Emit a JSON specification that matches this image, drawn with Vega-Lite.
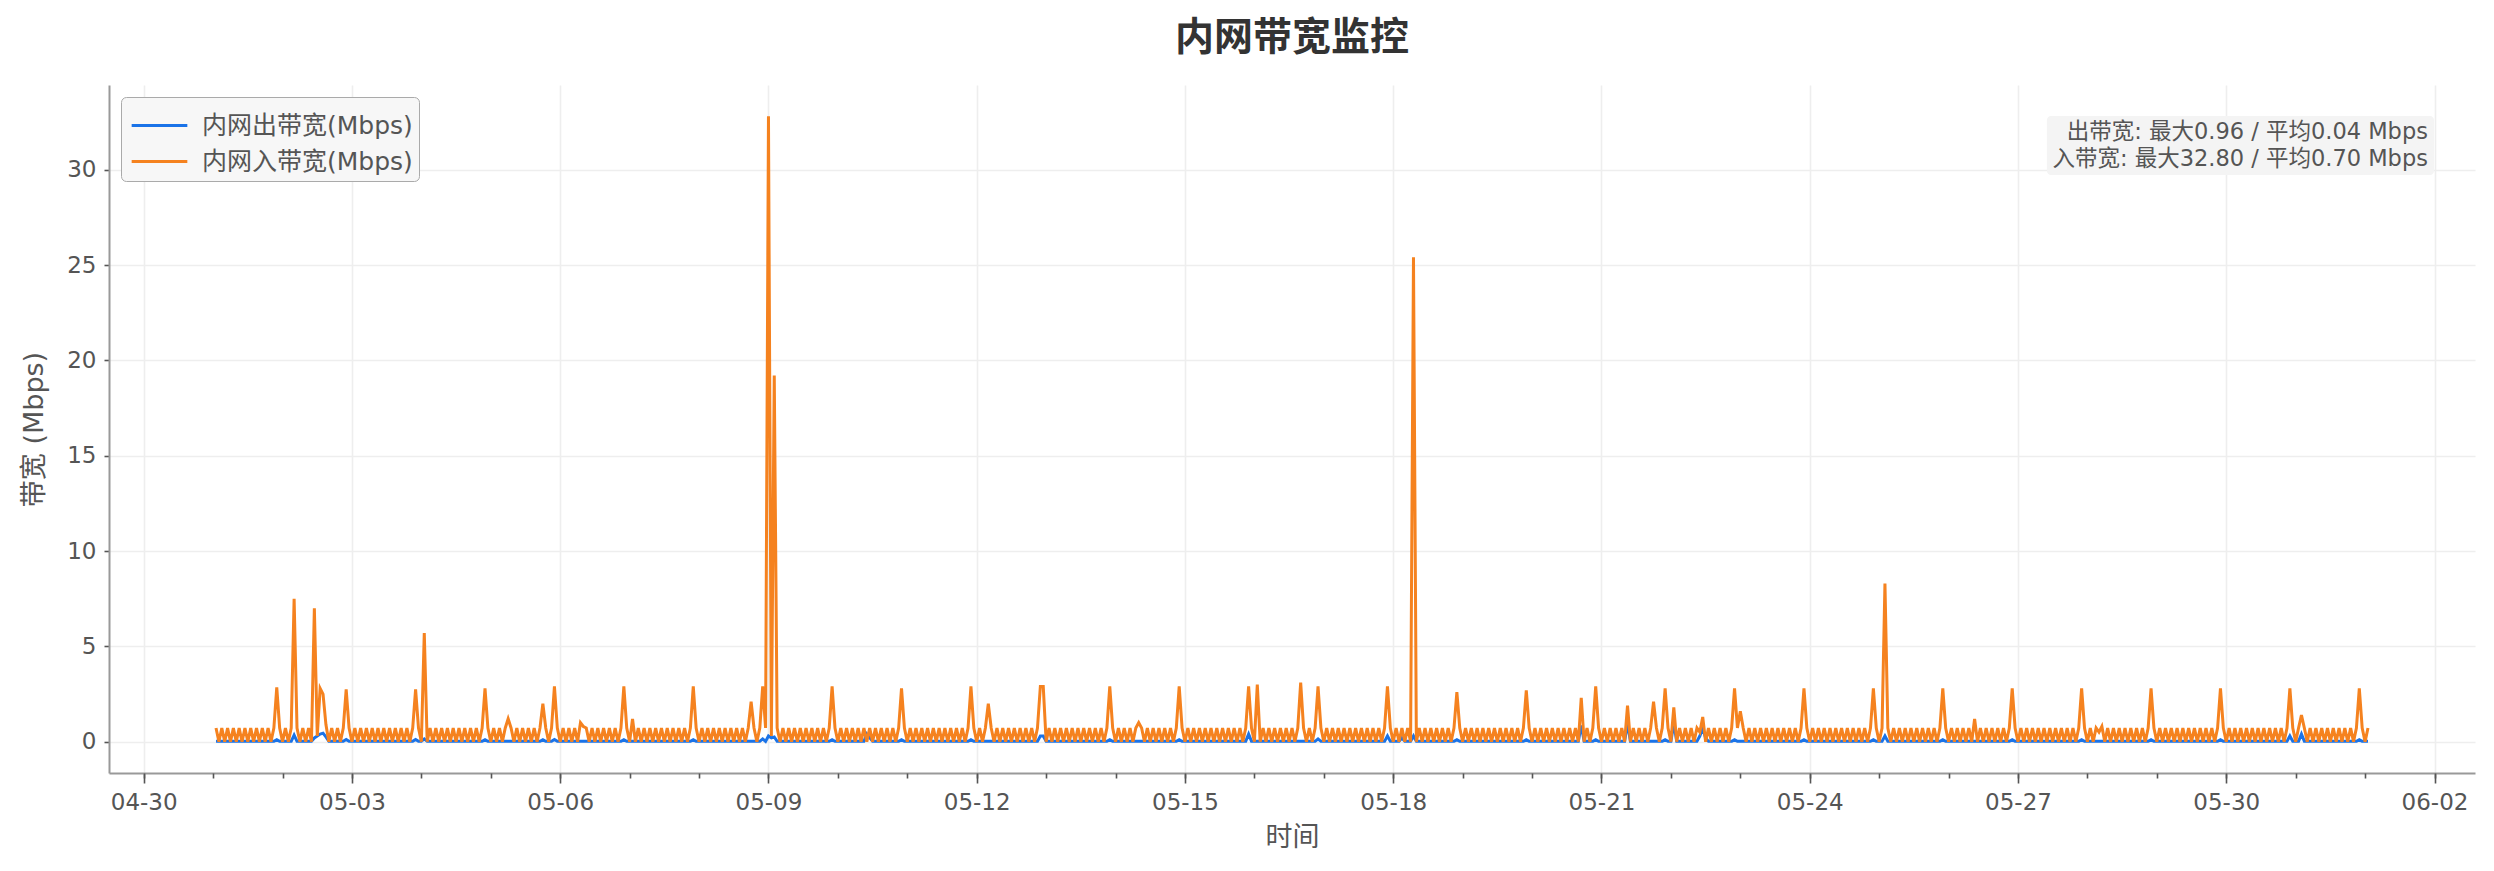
{
  "$schema": "https://vega.github.io/schema/vega-lite/v6.json",
  "width": 2366,
  "height": 688,
  "autosize": {"type": "none"},
  "padding": {"left": 109, "top": 85, "right": 19, "bottom": 98},
  "background": "white",
  "title": {"text": "内网带宽监控", "fontSize": 39, "fontWeight": "bold", "color": "#333333", "offset": 27, "anchor": "middle"},
  "data": {
    "format": {"parse": {"t": "date:'%m-%d %H'"}},
    "values": [
{"t":"05-01 01","o":0.02,"i":0.72},{"t":"05-01 02","o":0.02,"i":0},{"t":"05-01 03","o":0.02,"i":0.72},{"t":"05-01 04","o":0.02,"i":0},{"t":"05-01 05","o":0.02,"i":0.72},{"t":"05-01 06","o":0.02,"i":0},{"t":"05-01 07","o":0.02,"i":0.72},{"t":"05-01 08","o":0.02,"i":0},{"t":"05-01 09","o":0.02,"i":0.72},{"t":"05-01 10","o":0.02,"i":0},{"t":"05-01 11","o":0.02,"i":0.72},{"t":"05-01 12","o":0.02,"i":0},{"t":"05-01 13","o":0.02,"i":0.72},{"t":"05-01 14","o":0.02,"i":0},{"t":"05-01 15","o":0.02,"i":0.72},{"t":"05-01 16","o":0.02,"i":0},{"t":"05-01 17","o":0.02,"i":0.72},{"t":"05-01 18","o":0.02,"i":0},{"t":"05-01 19","o":0.02,"i":0.72},{"t":"05-01 20","o":0.02,"i":0},{"t":"05-01 21","o":0.02,"i":0.72},{"t":"05-01 22","o":0.1,"i":2.85},{"t":"05-01 23","o":0.02,"i":0.72},
{"t":"05-02 00","o":0.02,"i":0},{"t":"05-02 01","o":0.02,"i":0.72},{"t":"05-02 02","o":0.02,"i":0},{"t":"05-02 03","o":0.02,"i":0.72},{"t":"05-02 04","o":0.35,"i":7.5},{"t":"05-02 05","o":0.02,"i":0.72},{"t":"05-02 06","o":0.02,"i":0},{"t":"05-02 07","o":0.02,"i":0.72},{"t":"05-02 08","o":0.02,"i":0},{"t":"05-02 09","o":0.02,"i":0.72},{"t":"05-02 10","o":0.02,"i":0},{"t":"05-02 11","o":0.2,"i":7.0},{"t":"05-02 12","o":0.3,"i":0.3},{"t":"05-02 13","o":0.4,"i":2.8},{"t":"05-02 14","o":0.45,"i":2.5},{"t":"05-02 15","o":0.25,"i":0.9},{"t":"05-02 16","o":0.02,"i":0},{"t":"05-02 17","o":0.02,"i":0.72},{"t":"05-02 18","o":0.02,"i":0},{"t":"05-02 19","o":0.02,"i":0.72},{"t":"05-02 20","o":0.02,"i":0},{"t":"05-02 21","o":0.02,"i":0.72},{"t":"05-02 22","o":0.12,"i":2.75},{"t":"05-02 23","o":0.02,"i":0.72},
{"t":"05-03 00","o":0.02,"i":0},{"t":"05-03 01","o":0.02,"i":0.72},{"t":"05-03 02","o":0.02,"i":0},{"t":"05-03 03","o":0.02,"i":0.72},{"t":"05-03 04","o":0.02,"i":0},{"t":"05-03 05","o":0.02,"i":0.72},{"t":"05-03 06","o":0.02,"i":0},{"t":"05-03 07","o":0.02,"i":0.72},{"t":"05-03 08","o":0.02,"i":0},{"t":"05-03 09","o":0.02,"i":0.72},{"t":"05-03 10","o":0.02,"i":0},{"t":"05-03 11","o":0.02,"i":0.72},{"t":"05-03 12","o":0.02,"i":0},{"t":"05-03 13","o":0.02,"i":0.72},{"t":"05-03 14","o":0.02,"i":0},{"t":"05-03 15","o":0.02,"i":0.72},{"t":"05-03 16","o":0.02,"i":0},{"t":"05-03 17","o":0.02,"i":0.72},{"t":"05-03 18","o":0.02,"i":0},{"t":"05-03 19","o":0.02,"i":0.72},{"t":"05-03 20","o":0.02,"i":0},{"t":"05-03 21","o":0.02,"i":0.72},{"t":"05-03 22","o":0.12,"i":2.75},{"t":"05-03 23","o":0.02,"i":0.72},
{"t":"05-04 00","o":0.02,"i":0},{"t":"05-04 01","o":0.15,"i":5.7},{"t":"05-04 02","o":0.02,"i":0},{"t":"05-04 03","o":0.02,"i":0.72},{"t":"05-04 04","o":0.02,"i":0},{"t":"05-04 05","o":0.02,"i":0.72},{"t":"05-04 06","o":0.02,"i":0},{"t":"05-04 07","o":0.02,"i":0.72},{"t":"05-04 08","o":0.02,"i":0},{"t":"05-04 09","o":0.02,"i":0.72},{"t":"05-04 10","o":0.02,"i":0},{"t":"05-04 11","o":0.02,"i":0.72},{"t":"05-04 12","o":0.02,"i":0},{"t":"05-04 13","o":0.02,"i":0.72},{"t":"05-04 14","o":0.02,"i":0},{"t":"05-04 15","o":0.02,"i":0.72},{"t":"05-04 16","o":0.02,"i":0},{"t":"05-04 17","o":0.02,"i":0.72},{"t":"05-04 18","o":0.02,"i":0},{"t":"05-04 19","o":0.02,"i":0.72},{"t":"05-04 20","o":0.02,"i":0},{"t":"05-04 21","o":0.02,"i":0.72},{"t":"05-04 22","o":0.1,"i":2.8},{"t":"05-04 23","o":0.02,"i":0.72},
{"t":"05-05 00","o":0.02,"i":0},{"t":"05-05 01","o":0.02,"i":0.72},{"t":"05-05 02","o":0.02,"i":0},{"t":"05-05 03","o":0.02,"i":0.72},{"t":"05-05 04","o":0.02,"i":0},{"t":"05-05 05","o":0.02,"i":0.72},{"t":"05-05 06","o":0.02,"i":1.2},{"t":"05-05 07","o":0.02,"i":0.72},{"t":"05-05 08","o":0.02,"i":0},{"t":"05-05 09","o":0.02,"i":0.72},{"t":"05-05 10","o":0.02,"i":0},{"t":"05-05 11","o":0.02,"i":0.72},{"t":"05-05 12","o":0.02,"i":0},{"t":"05-05 13","o":0.02,"i":0.72},{"t":"05-05 14","o":0.02,"i":0},{"t":"05-05 15","o":0.02,"i":0.72},{"t":"05-05 16","o":0.02,"i":0},{"t":"05-05 17","o":0.02,"i":0.72},{"t":"05-05 18","o":0.1,"i":2.0},{"t":"05-05 19","o":0.02,"i":0.72},{"t":"05-05 20","o":0.02,"i":0},{"t":"05-05 21","o":0.02,"i":0.72},{"t":"05-05 22","o":0.12,"i":2.9},{"t":"05-05 23","o":0.02,"i":0.72},
{"t":"05-06 00","o":0.02,"i":0},{"t":"05-06 01","o":0.02,"i":0.72},{"t":"05-06 02","o":0.02,"i":0},{"t":"05-06 03","o":0.02,"i":0.72},{"t":"05-06 04","o":0.02,"i":0},{"t":"05-06 05","o":0.02,"i":0.72},{"t":"05-06 06","o":0.02,"i":0},{"t":"05-06 07","o":0.02,"i":1.0},{"t":"05-06 08","o":0.02,"i":0.8},{"t":"05-06 09","o":0.02,"i":0.72},{"t":"05-06 10","o":0.02,"i":0},{"t":"05-06 11","o":0.02,"i":0.72},{"t":"05-06 12","o":0.02,"i":0},{"t":"05-06 13","o":0.02,"i":0.72},{"t":"05-06 14","o":0.02,"i":0},{"t":"05-06 15","o":0.02,"i":0.72},{"t":"05-06 16","o":0.02,"i":0},{"t":"05-06 17","o":0.02,"i":0.72},{"t":"05-06 18","o":0.02,"i":0},{"t":"05-06 19","o":0.02,"i":0.72},{"t":"05-06 20","o":0.02,"i":0},{"t":"05-06 21","o":0.02,"i":0.72},{"t":"05-06 22","o":0.1,"i":2.9},{"t":"05-06 23","o":0.02,"i":0.72},
{"t":"05-07 00","o":0.02,"i":0},{"t":"05-07 01","o":0.02,"i":1.2},{"t":"05-07 02","o":0.02,"i":0},{"t":"05-07 03","o":0.02,"i":0.72},{"t":"05-07 04","o":0.02,"i":0},{"t":"05-07 05","o":0.02,"i":0.72},{"t":"05-07 06","o":0.02,"i":0},{"t":"05-07 07","o":0.02,"i":0.72},{"t":"05-07 08","o":0.02,"i":0},{"t":"05-07 09","o":0.02,"i":0.72},{"t":"05-07 10","o":0.02,"i":0},{"t":"05-07 11","o":0.02,"i":0.72},{"t":"05-07 12","o":0.02,"i":0},{"t":"05-07 13","o":0.02,"i":0.72},{"t":"05-07 14","o":0.02,"i":0},{"t":"05-07 15","o":0.02,"i":0.72},{"t":"05-07 16","o":0.02,"i":0},{"t":"05-07 17","o":0.02,"i":0.72},{"t":"05-07 18","o":0.02,"i":0},{"t":"05-07 19","o":0.02,"i":0.72},{"t":"05-07 20","o":0.02,"i":0},{"t":"05-07 21","o":0.02,"i":0.72},{"t":"05-07 22","o":0.1,"i":2.9},{"t":"05-07 23","o":0.02,"i":0.72},
{"t":"05-08 00","o":0.02,"i":0},{"t":"05-08 01","o":0.02,"i":0.72},{"t":"05-08 02","o":0.02,"i":0},{"t":"05-08 03","o":0.02,"i":0.72},{"t":"05-08 04","o":0.02,"i":0},{"t":"05-08 05","o":0.02,"i":0.72},{"t":"05-08 06","o":0.02,"i":0},{"t":"05-08 07","o":0.02,"i":0.72},{"t":"05-08 08","o":0.02,"i":0},{"t":"05-08 09","o":0.02,"i":0.72},{"t":"05-08 10","o":0.02,"i":0},{"t":"05-08 11","o":0.02,"i":0.72},{"t":"05-08 12","o":0.02,"i":0},{"t":"05-08 13","o":0.02,"i":0.72},{"t":"05-08 14","o":0.02,"i":0},{"t":"05-08 15","o":0.02,"i":0.72},{"t":"05-08 16","o":0.02,"i":0},{"t":"05-08 17","o":0.02,"i":0.72},{"t":"05-08 18","o":0.02,"i":2.1},{"t":"05-08 19","o":0.02,"i":0.72},{"t":"05-08 20","o":0.02,"i":0},{"t":"05-08 21","o":0.02,"i":0.72},{"t":"05-08 22","o":0.15,"i":2.9},{"t":"05-08 23","o":0.02,"i":0.72},
{"t":"05-09 00","o":0.3,"i":32.8},{"t":"05-09 01","o":0.2,"i":0.3},{"t":"05-09 02","o":0.25,"i":19.2},{"t":"05-09 03","o":0.02,"i":0.72},{"t":"05-09 04","o":0.02,"i":0},{"t":"05-09 05","o":0.02,"i":0.72},{"t":"05-09 06","o":0.02,"i":0},{"t":"05-09 07","o":0.02,"i":0.72},{"t":"05-09 08","o":0.02,"i":0},{"t":"05-09 09","o":0.02,"i":0.72},{"t":"05-09 10","o":0.02,"i":0},{"t":"05-09 11","o":0.02,"i":0.72},{"t":"05-09 12","o":0.02,"i":0},{"t":"05-09 13","o":0.02,"i":0.72},{"t":"05-09 14","o":0.02,"i":0},{"t":"05-09 15","o":0.02,"i":0.72},{"t":"05-09 16","o":0.02,"i":0},{"t":"05-09 17","o":0.02,"i":0.72},{"t":"05-09 18","o":0.02,"i":0},{"t":"05-09 19","o":0.02,"i":0.72},{"t":"05-09 20","o":0.02,"i":0},{"t":"05-09 21","o":0.02,"i":0.72},{"t":"05-09 22","o":0.1,"i":2.9},{"t":"05-09 23","o":0.02,"i":0.72},
{"t":"05-10 00","o":0.02,"i":0},{"t":"05-10 01","o":0.02,"i":0.72},{"t":"05-10 02","o":0.02,"i":0},{"t":"05-10 03","o":0.02,"i":0.72},{"t":"05-10 04","o":0.02,"i":0},{"t":"05-10 05","o":0.02,"i":0.72},{"t":"05-10 06","o":0.02,"i":0},{"t":"05-10 07","o":0.02,"i":0.72},{"t":"05-10 08","o":0.02,"i":0},{"t":"05-10 09","o":0.02,"i":0.72},{"t":"05-10 10","o":0.4,"i":0},{"t":"05-10 11","o":0.2,"i":0.72},{"t":"05-10 12","o":0.02,"i":0},{"t":"05-10 13","o":0.02,"i":0.72},{"t":"05-10 14","o":0.02,"i":0},{"t":"05-10 15","o":0.02,"i":0.72},{"t":"05-10 16","o":0.02,"i":0},{"t":"05-10 17","o":0.02,"i":0.72},{"t":"05-10 18","o":0.02,"i":0},{"t":"05-10 19","o":0.02,"i":0.72},{"t":"05-10 20","o":0.02,"i":0},{"t":"05-10 21","o":0.02,"i":0.72},{"t":"05-10 22","o":0.1,"i":2.8},{"t":"05-10 23","o":0.02,"i":0.72},
{"t":"05-11 00","o":0.02,"i":0},{"t":"05-11 01","o":0.02,"i":0.72},{"t":"05-11 02","o":0.02,"i":0},{"t":"05-11 03","o":0.02,"i":0.72},{"t":"05-11 04","o":0.02,"i":0},{"t":"05-11 05","o":0.02,"i":0.72},{"t":"05-11 06","o":0.02,"i":0},{"t":"05-11 07","o":0.02,"i":0.72},{"t":"05-11 08","o":0.02,"i":0},{"t":"05-11 09","o":0.02,"i":0.72},{"t":"05-11 10","o":0.02,"i":0},{"t":"05-11 11","o":0.02,"i":0.72},{"t":"05-11 12","o":0.02,"i":0},{"t":"05-11 13","o":0.02,"i":0.72},{"t":"05-11 14","o":0.02,"i":0},{"t":"05-11 15","o":0.02,"i":0.72},{"t":"05-11 16","o":0.02,"i":0},{"t":"05-11 17","o":0.02,"i":0.72},{"t":"05-11 18","o":0.02,"i":0},{"t":"05-11 19","o":0.02,"i":0.72},{"t":"05-11 20","o":0.02,"i":0},{"t":"05-11 21","o":0.02,"i":0.72},{"t":"05-11 22","o":0.1,"i":2.9},{"t":"05-11 23","o":0.02,"i":0.72},
{"t":"05-12 00","o":0.02,"i":0},{"t":"05-12 01","o":0.02,"i":0.72},{"t":"05-12 02","o":0.02,"i":0},{"t":"05-12 03","o":0.02,"i":0.72},{"t":"05-12 04","o":0.02,"i":2.0},{"t":"05-12 05","o":0.02,"i":0.72},{"t":"05-12 06","o":0.02,"i":0},{"t":"05-12 07","o":0.02,"i":0.72},{"t":"05-12 08","o":0.02,"i":0},{"t":"05-12 09","o":0.02,"i":0.72},{"t":"05-12 10","o":0.02,"i":0},{"t":"05-12 11","o":0.02,"i":0.72},{"t":"05-12 12","o":0.02,"i":0},{"t":"05-12 13","o":0.02,"i":0.72},{"t":"05-12 14","o":0.02,"i":0},{"t":"05-12 15","o":0.02,"i":0.72},{"t":"05-12 16","o":0.02,"i":0},{"t":"05-12 17","o":0.02,"i":0.72},{"t":"05-12 18","o":0.02,"i":0},{"t":"05-12 19","o":0.02,"i":0.72},{"t":"05-12 20","o":0.02,"i":0},{"t":"05-12 21","o":0.02,"i":0.72},{"t":"05-12 22","o":0.3,"i":2.9},{"t":"05-12 23","o":0.3,"i":2.9},
{"t":"05-13 00","o":0.02,"i":0},{"t":"05-13 01","o":0.02,"i":0.72},{"t":"05-13 02","o":0.02,"i":0},{"t":"05-13 03","o":0.02,"i":0.72},{"t":"05-13 04","o":0.02,"i":0},{"t":"05-13 05","o":0.02,"i":0.72},{"t":"05-13 06","o":0.02,"i":0},{"t":"05-13 07","o":0.02,"i":0.72},{"t":"05-13 08","o":0.02,"i":0},{"t":"05-13 09","o":0.02,"i":0.72},{"t":"05-13 10","o":0.02,"i":0},{"t":"05-13 11","o":0.02,"i":0.72},{"t":"05-13 12","o":0.02,"i":0},{"t":"05-13 13","o":0.02,"i":0.72},{"t":"05-13 14","o":0.02,"i":0},{"t":"05-13 15","o":0.02,"i":0.72},{"t":"05-13 16","o":0.02,"i":0},{"t":"05-13 17","o":0.02,"i":0.72},{"t":"05-13 18","o":0.02,"i":0},{"t":"05-13 19","o":0.02,"i":0.72},{"t":"05-13 20","o":0.02,"i":0},{"t":"05-13 21","o":0.02,"i":0.72},{"t":"05-13 22","o":0.1,"i":2.9},{"t":"05-13 23","o":0.02,"i":0.72},
{"t":"05-14 00","o":0.02,"i":0},{"t":"05-14 01","o":0.02,"i":0.72},{"t":"05-14 02","o":0.02,"i":0},{"t":"05-14 03","o":0.02,"i":0.72},{"t":"05-14 04","o":0.02,"i":0},{"t":"05-14 05","o":0.02,"i":0.72},{"t":"05-14 06","o":0.02,"i":0},{"t":"05-14 07","o":0.02,"i":0.72},{"t":"05-14 08","o":0.02,"i":1.0},{"t":"05-14 09","o":0.02,"i":0.72},{"t":"05-14 10","o":0.02,"i":0},{"t":"05-14 11","o":0.02,"i":0.72},{"t":"05-14 12","o":0.02,"i":0},{"t":"05-14 13","o":0.02,"i":0.72},{"t":"05-14 14","o":0.02,"i":0},{"t":"05-14 15","o":0.02,"i":0.72},{"t":"05-14 16","o":0.02,"i":0},{"t":"05-14 17","o":0.02,"i":0.72},{"t":"05-14 18","o":0.02,"i":0},{"t":"05-14 19","o":0.02,"i":0.72},{"t":"05-14 20","o":0.02,"i":0},{"t":"05-14 21","o":0.02,"i":0.72},{"t":"05-14 22","o":0.1,"i":2.9},{"t":"05-14 23","o":0.02,"i":0.72},
{"t":"05-15 00","o":0.02,"i":0},{"t":"05-15 01","o":0.02,"i":0.72},{"t":"05-15 02","o":0.02,"i":0},{"t":"05-15 03","o":0.02,"i":0.72},{"t":"05-15 04","o":0.02,"i":0},{"t":"05-15 05","o":0.02,"i":0.72},{"t":"05-15 06","o":0.02,"i":0},{"t":"05-15 07","o":0.02,"i":0.72},{"t":"05-15 08","o":0.02,"i":0},{"t":"05-15 09","o":0.02,"i":0.72},{"t":"05-15 10","o":0.02,"i":0},{"t":"05-15 11","o":0.02,"i":0.72},{"t":"05-15 12","o":0.02,"i":0},{"t":"05-15 13","o":0.02,"i":0.72},{"t":"05-15 14","o":0.02,"i":0},{"t":"05-15 15","o":0.02,"i":0.72},{"t":"05-15 16","o":0.02,"i":0},{"t":"05-15 17","o":0.02,"i":0.72},{"t":"05-15 18","o":0.02,"i":0},{"t":"05-15 19","o":0.02,"i":0.72},{"t":"05-15 20","o":0.02,"i":0},{"t":"05-15 21","o":0.02,"i":0.72},{"t":"05-15 22","o":0.4,"i":2.9},{"t":"05-15 23","o":0.02,"i":0.72},
{"t":"05-16 00","o":0.02,"i":0},{"t":"05-16 01","o":0.02,"i":3.0},{"t":"05-16 02","o":0.02,"i":0},{"t":"05-16 03","o":0.02,"i":0.72},{"t":"05-16 04","o":0.02,"i":0},{"t":"05-16 05","o":0.02,"i":0.72},{"t":"05-16 06","o":0.02,"i":0},{"t":"05-16 07","o":0.02,"i":0.72},{"t":"05-16 08","o":0.02,"i":0},{"t":"05-16 09","o":0.02,"i":0.72},{"t":"05-16 10","o":0.02,"i":0},{"t":"05-16 11","o":0.02,"i":0.72},{"t":"05-16 12","o":0.02,"i":0},{"t":"05-16 13","o":0.02,"i":0.72},{"t":"05-16 14","o":0.02,"i":0},{"t":"05-16 15","o":0.02,"i":0.72},{"t":"05-16 16","o":0.02,"i":3.1},{"t":"05-16 17","o":0.02,"i":0.72},{"t":"05-16 18","o":0.02,"i":0},{"t":"05-16 19","o":0.02,"i":0.72},{"t":"05-16 20","o":0.02,"i":0},{"t":"05-16 21","o":0.02,"i":0.72},{"t":"05-16 22","o":0.15,"i":2.9},{"t":"05-16 23","o":0.02,"i":0.72},
{"t":"05-17 00","o":0.02,"i":0},{"t":"05-17 01","o":0.02,"i":0.72},{"t":"05-17 02","o":0.02,"i":0},{"t":"05-17 03","o":0.02,"i":0.72},{"t":"05-17 04","o":0.02,"i":0},{"t":"05-17 05","o":0.02,"i":0.72},{"t":"05-17 06","o":0.02,"i":0},{"t":"05-17 07","o":0.02,"i":0.72},{"t":"05-17 08","o":0.02,"i":0},{"t":"05-17 09","o":0.02,"i":0.72},{"t":"05-17 10","o":0.02,"i":0},{"t":"05-17 11","o":0.02,"i":0.72},{"t":"05-17 12","o":0.02,"i":0},{"t":"05-17 13","o":0.02,"i":0.72},{"t":"05-17 14","o":0.02,"i":0},{"t":"05-17 15","o":0.02,"i":0.72},{"t":"05-17 16","o":0.02,"i":0},{"t":"05-17 17","o":0.02,"i":0.72},{"t":"05-17 18","o":0.02,"i":0},{"t":"05-17 19","o":0.02,"i":0.72},{"t":"05-17 20","o":0.02,"i":0},{"t":"05-17 21","o":0.02,"i":0.72},{"t":"05-17 22","o":0.3,"i":2.9},{"t":"05-17 23","o":0.02,"i":0.72},
{"t":"05-18 00","o":0.02,"i":0},{"t":"05-18 01","o":0.02,"i":0.72},{"t":"05-18 02","o":0.02,"i":0},{"t":"05-18 03","o":0.2,"i":0.72},{"t":"05-18 04","o":0.02,"i":0},{"t":"05-18 05","o":0.02,"i":0.72},{"t":"05-18 06","o":0.02,"i":0},{"t":"05-18 07","o":0.3,"i":25.4},{"t":"05-18 08","o":0.02,"i":0},{"t":"05-18 09","o":0.02,"i":0.72},{"t":"05-18 10","o":0.02,"i":0},{"t":"05-18 11","o":0.02,"i":0.72},{"t":"05-18 12","o":0.02,"i":0},{"t":"05-18 13","o":0.02,"i":0.72},{"t":"05-18 14","o":0.02,"i":0},{"t":"05-18 15","o":0.02,"i":0.72},{"t":"05-18 16","o":0.02,"i":0},{"t":"05-18 17","o":0.02,"i":0.72},{"t":"05-18 18","o":0.02,"i":0},{"t":"05-18 19","o":0.02,"i":0.72},{"t":"05-18 20","o":0.02,"i":0},{"t":"05-18 21","o":0.02,"i":0.72},{"t":"05-18 22","o":0.1,"i":2.6},{"t":"05-18 23","o":0.02,"i":0.72},
{"t":"05-19 00","o":0.02,"i":0},{"t":"05-19 01","o":0.02,"i":0.72},{"t":"05-19 02","o":0.02,"i":0},{"t":"05-19 03","o":0.02,"i":0.72},{"t":"05-19 04","o":0.02,"i":0},{"t":"05-19 05","o":0.02,"i":0.72},{"t":"05-19 06","o":0.02,"i":0},{"t":"05-19 07","o":0.02,"i":0.72},{"t":"05-19 08","o":0.02,"i":0},{"t":"05-19 09","o":0.02,"i":0.72},{"t":"05-19 10","o":0.02,"i":0},{"t":"05-19 11","o":0.02,"i":0.72},{"t":"05-19 12","o":0.02,"i":0},{"t":"05-19 13","o":0.02,"i":0.72},{"t":"05-19 14","o":0.02,"i":0},{"t":"05-19 15","o":0.02,"i":0.72},{"t":"05-19 16","o":0.02,"i":0},{"t":"05-19 17","o":0.02,"i":0.72},{"t":"05-19 18","o":0.02,"i":0},{"t":"05-19 19","o":0.02,"i":0.72},{"t":"05-19 20","o":0.02,"i":0},{"t":"05-19 21","o":0.02,"i":0.72},{"t":"05-19 22","o":0.1,"i":2.7},{"t":"05-19 23","o":0.02,"i":0.72},
{"t":"05-20 00","o":0.02,"i":0},{"t":"05-20 01","o":0.02,"i":0.72},{"t":"05-20 02","o":0.02,"i":0},{"t":"05-20 03","o":0.02,"i":0.72},{"t":"05-20 04","o":0.02,"i":0},{"t":"05-20 05","o":0.02,"i":0.72},{"t":"05-20 06","o":0.02,"i":0},{"t":"05-20 07","o":0.02,"i":0.72},{"t":"05-20 08","o":0.02,"i":0},{"t":"05-20 09","o":0.02,"i":0.72},{"t":"05-20 10","o":0.02,"i":0},{"t":"05-20 11","o":0.02,"i":0.72},{"t":"05-20 12","o":0.02,"i":0},{"t":"05-20 13","o":0.02,"i":0.72},{"t":"05-20 14","o":0.02,"i":0},{"t":"05-20 15","o":0.02,"i":0.72},{"t":"05-20 16","o":0.02,"i":0},{"t":"05-20 17","o":0.85,"i":2.3},{"t":"05-20 18","o":0.02,"i":0},{"t":"05-20 19","o":0.02,"i":0.72},{"t":"05-20 20","o":0.02,"i":0},{"t":"05-20 21","o":0.02,"i":0.72},{"t":"05-20 22","o":0.1,"i":2.9},{"t":"05-20 23","o":0.02,"i":0.72},
{"t":"05-21 00","o":0.02,"i":0},{"t":"05-21 01","o":0.02,"i":0.72},{"t":"05-21 02","o":0.02,"i":0},{"t":"05-21 03","o":0.02,"i":0.72},{"t":"05-21 04","o":0.02,"i":0},{"t":"05-21 05","o":0.02,"i":0.72},{"t":"05-21 06","o":0.02,"i":0},{"t":"05-21 07","o":0.02,"i":0.72},{"t":"05-21 08","o":0.02,"i":0},{"t":"05-21 09","o":0.96,"i":1.9},{"t":"05-21 10","o":0.02,"i":0},{"t":"05-21 11","o":0.02,"i":0.72},{"t":"05-21 12","o":0.02,"i":0},{"t":"05-21 13","o":0.02,"i":0.72},{"t":"05-21 14","o":0.02,"i":0},{"t":"05-21 15","o":0.02,"i":0.72},{"t":"05-21 16","o":0.02,"i":0},{"t":"05-21 17","o":0.02,"i":0.72},{"t":"05-21 18","o":0.02,"i":2.1},{"t":"05-21 19","o":0.02,"i":0.72},{"t":"05-21 20","o":0.02,"i":0},{"t":"05-21 21","o":0.02,"i":0.72},{"t":"05-21 22","o":0.1,"i":2.8},{"t":"05-21 23","o":0.02,"i":0.72},
{"t":"05-22 00","o":0.02,"i":0},{"t":"05-22 01","o":0.96,"i":1.8},{"t":"05-22 02","o":0.02,"i":0},{"t":"05-22 03","o":0.02,"i":0.72},{"t":"05-22 04","o":0.02,"i":0},{"t":"05-22 05","o":0.02,"i":0.72},{"t":"05-22 06","o":0.02,"i":0},{"t":"05-22 07","o":0.02,"i":0.72},{"t":"05-22 08","o":0.02,"i":0},{"t":"05-22 09","o":0.02,"i":0.72},{"t":"05-22 10","o":0.3,"i":0.5},{"t":"05-22 11","o":0.7,"i":1.3},{"t":"05-22 12","o":0.2,"i":0},{"t":"05-22 13","o":0.02,"i":0.72},{"t":"05-22 14","o":0.02,"i":0},{"t":"05-22 15","o":0.02,"i":0.72},{"t":"05-22 16","o":0.02,"i":0},{"t":"05-22 17","o":0.02,"i":0.72},{"t":"05-22 18","o":0.02,"i":0},{"t":"05-22 19","o":0.02,"i":0.72},{"t":"05-22 20","o":0.02,"i":0},{"t":"05-22 21","o":0.02,"i":0.72},{"t":"05-22 22","o":0.1,"i":2.8},{"t":"05-22 23","o":0.02,"i":0.72},
{"t":"05-23 00","o":0.02,"i":1.6},{"t":"05-23 01","o":0.02,"i":0.72},{"t":"05-23 02","o":0.02,"i":0},{"t":"05-23 03","o":0.02,"i":0.72},{"t":"05-23 04","o":0.02,"i":0},{"t":"05-23 05","o":0.02,"i":0.72},{"t":"05-23 06","o":0.02,"i":0},{"t":"05-23 07","o":0.02,"i":0.72},{"t":"05-23 08","o":0.02,"i":0},{"t":"05-23 09","o":0.02,"i":0.72},{"t":"05-23 10","o":0.02,"i":0},{"t":"05-23 11","o":0.02,"i":0.72},{"t":"05-23 12","o":0.02,"i":0},{"t":"05-23 13","o":0.02,"i":0.72},{"t":"05-23 14","o":0.02,"i":0},{"t":"05-23 15","o":0.02,"i":0.72},{"t":"05-23 16","o":0.02,"i":0},{"t":"05-23 17","o":0.02,"i":0.72},{"t":"05-23 18","o":0.02,"i":0},{"t":"05-23 19","o":0.02,"i":0.72},{"t":"05-23 20","o":0.02,"i":0},{"t":"05-23 21","o":0.02,"i":0.72},{"t":"05-23 22","o":0.1,"i":2.8},{"t":"05-23 23","o":0.02,"i":0.72},
{"t":"05-24 00","o":0.02,"i":0},{"t":"05-24 01","o":0.02,"i":0.72},{"t":"05-24 02","o":0.02,"i":0},{"t":"05-24 03","o":0.02,"i":0.72},{"t":"05-24 04","o":0.02,"i":0},{"t":"05-24 05","o":0.02,"i":0.72},{"t":"05-24 06","o":0.02,"i":0},{"t":"05-24 07","o":0.02,"i":0.72},{"t":"05-24 08","o":0.02,"i":0},{"t":"05-24 09","o":0.02,"i":0.72},{"t":"05-24 10","o":0.02,"i":0},{"t":"05-24 11","o":0.02,"i":0.72},{"t":"05-24 12","o":0.02,"i":0},{"t":"05-24 13","o":0.02,"i":0.72},{"t":"05-24 14","o":0.02,"i":0},{"t":"05-24 15","o":0.02,"i":0.72},{"t":"05-24 16","o":0.02,"i":0},{"t":"05-24 17","o":0.02,"i":0.72},{"t":"05-24 18","o":0.02,"i":0},{"t":"05-24 19","o":0.02,"i":0.72},{"t":"05-24 20","o":0.02,"i":0},{"t":"05-24 21","o":0.02,"i":0.72},{"t":"05-24 22","o":0.1,"i":2.8},{"t":"05-24 23","o":0.02,"i":0.72},
{"t":"05-25 00","o":0.02,"i":0},{"t":"05-25 01","o":0.02,"i":0.72},{"t":"05-25 02","o":0.3,"i":8.3},{"t":"05-25 03","o":0.02,"i":0.72},{"t":"05-25 04","o":0.02,"i":0},{"t":"05-25 05","o":0.02,"i":0.72},{"t":"05-25 06","o":0.02,"i":0},{"t":"05-25 07","o":0.02,"i":0.72},{"t":"05-25 08","o":0.02,"i":0},{"t":"05-25 09","o":0.02,"i":0.72},{"t":"05-25 10","o":0.02,"i":0},{"t":"05-25 11","o":0.02,"i":0.72},{"t":"05-25 12","o":0.02,"i":0},{"t":"05-25 13","o":0.02,"i":0.72},{"t":"05-25 14","o":0.02,"i":0},{"t":"05-25 15","o":0.02,"i":0.72},{"t":"05-25 16","o":0.02,"i":0},{"t":"05-25 17","o":0.02,"i":0.72},{"t":"05-25 18","o":0.02,"i":0},{"t":"05-25 19","o":0.02,"i":0.72},{"t":"05-25 20","o":0.02,"i":0},{"t":"05-25 21","o":0.02,"i":0.72},{"t":"05-25 22","o":0.1,"i":2.8},{"t":"05-25 23","o":0.02,"i":0.72},
{"t":"05-26 00","o":0.02,"i":0},{"t":"05-26 01","o":0.02,"i":0.72},{"t":"05-26 02","o":0.02,"i":0},{"t":"05-26 03","o":0.02,"i":0.72},{"t":"05-26 04","o":0.02,"i":0},{"t":"05-26 05","o":0.02,"i":0.72},{"t":"05-26 06","o":0.02,"i":0},{"t":"05-26 07","o":0.02,"i":0.72},{"t":"05-26 08","o":0.02,"i":0},{"t":"05-26 09","o":0.02,"i":1.2},{"t":"05-26 10","o":0.02,"i":0},{"t":"05-26 11","o":0.02,"i":0.72},{"t":"05-26 12","o":0.02,"i":0},{"t":"05-26 13","o":0.02,"i":0.72},{"t":"05-26 14","o":0.02,"i":0},{"t":"05-26 15","o":0.02,"i":0.72},{"t":"05-26 16","o":0.02,"i":0},{"t":"05-26 17","o":0.02,"i":0.72},{"t":"05-26 18","o":0.02,"i":0},{"t":"05-26 19","o":0.02,"i":0.72},{"t":"05-26 20","o":0.02,"i":0},{"t":"05-26 21","o":0.02,"i":0.72},{"t":"05-26 22","o":0.1,"i":2.8},{"t":"05-26 23","o":0.02,"i":0.72},
{"t":"05-27 00","o":0.02,"i":0},{"t":"05-27 01","o":0.02,"i":0.72},{"t":"05-27 02","o":0.02,"i":0},{"t":"05-27 03","o":0.02,"i":0.72},{"t":"05-27 04","o":0.02,"i":0},{"t":"05-27 05","o":0.02,"i":0.72},{"t":"05-27 06","o":0.02,"i":0},{"t":"05-27 07","o":0.02,"i":0.72},{"t":"05-27 08","o":0.02,"i":0},{"t":"05-27 09","o":0.02,"i":0.72},{"t":"05-27 10","o":0.02,"i":0},{"t":"05-27 11","o":0.02,"i":0.72},{"t":"05-27 12","o":0.02,"i":0},{"t":"05-27 13","o":0.02,"i":0.72},{"t":"05-27 14","o":0.02,"i":0},{"t":"05-27 15","o":0.02,"i":0.72},{"t":"05-27 16","o":0.02,"i":0},{"t":"05-27 17","o":0.02,"i":0.72},{"t":"05-27 18","o":0.02,"i":0},{"t":"05-27 19","o":0.02,"i":0.72},{"t":"05-27 20","o":0.02,"i":0},{"t":"05-27 21","o":0.02,"i":0.72},{"t":"05-27 22","o":0.1,"i":2.8},{"t":"05-27 23","o":0.02,"i":0.72},
{"t":"05-28 00","o":0.02,"i":0},{"t":"05-28 01","o":0.02,"i":0.72},{"t":"05-28 02","o":0.02,"i":0},{"t":"05-28 03","o":0.02,"i":0.72},{"t":"05-28 04","o":0.02,"i":0.5},{"t":"05-28 05","o":0.02,"i":0.8},{"t":"05-28 06","o":0.02,"i":0},{"t":"05-28 07","o":0.02,"i":0.72},{"t":"05-28 08","o":0.02,"i":0},{"t":"05-28 09","o":0.02,"i":0.72},{"t":"05-28 10","o":0.02,"i":0},{"t":"05-28 11","o":0.02,"i":0.72},{"t":"05-28 12","o":0.02,"i":0},{"t":"05-28 13","o":0.02,"i":0.72},{"t":"05-28 14","o":0.02,"i":0},{"t":"05-28 15","o":0.02,"i":0.72},{"t":"05-28 16","o":0.02,"i":0},{"t":"05-28 17","o":0.02,"i":0.72},{"t":"05-28 18","o":0.02,"i":0},{"t":"05-28 19","o":0.02,"i":0.72},{"t":"05-28 20","o":0.02,"i":0},{"t":"05-28 21","o":0.02,"i":0.72},{"t":"05-28 22","o":0.1,"i":2.8},{"t":"05-28 23","o":0.02,"i":0.72},
{"t":"05-29 00","o":0.02,"i":0},{"t":"05-29 01","o":0.02,"i":0.72},{"t":"05-29 02","o":0.02,"i":0},{"t":"05-29 03","o":0.02,"i":0.72},{"t":"05-29 04","o":0.02,"i":0},{"t":"05-29 05","o":0.02,"i":0.72},{"t":"05-29 06","o":0.02,"i":0},{"t":"05-29 07","o":0.02,"i":0.72},{"t":"05-29 08","o":0.02,"i":0},{"t":"05-29 09","o":0.02,"i":0.72},{"t":"05-29 10","o":0.02,"i":0},{"t":"05-29 11","o":0.02,"i":0.72},{"t":"05-29 12","o":0.02,"i":0},{"t":"05-29 13","o":0.02,"i":0.72},{"t":"05-29 14","o":0.02,"i":0},{"t":"05-29 15","o":0.02,"i":0.72},{"t":"05-29 16","o":0.02,"i":0},{"t":"05-29 17","o":0.02,"i":0.72},{"t":"05-29 18","o":0.02,"i":0},{"t":"05-29 19","o":0.02,"i":0.72},{"t":"05-29 20","o":0.02,"i":0},{"t":"05-29 21","o":0.02,"i":0.72},{"t":"05-29 22","o":0.1,"i":2.8},{"t":"05-29 23","o":0.02,"i":0.72},
{"t":"05-30 00","o":0.02,"i":0},{"t":"05-30 01","o":0.02,"i":0.72},{"t":"05-30 02","o":0.02,"i":0},{"t":"05-30 03","o":0.02,"i":0.72},{"t":"05-30 04","o":0.02,"i":0},{"t":"05-30 05","o":0.02,"i":0.72},{"t":"05-30 06","o":0.02,"i":0},{"t":"05-30 07","o":0.02,"i":0.72},{"t":"05-30 08","o":0.02,"i":0},{"t":"05-30 09","o":0.02,"i":0.72},{"t":"05-30 10","o":0.02,"i":0},{"t":"05-30 11","o":0.02,"i":0.72},{"t":"05-30 12","o":0.02,"i":0},{"t":"05-30 13","o":0.02,"i":0.72},{"t":"05-30 14","o":0.02,"i":0},{"t":"05-30 15","o":0.02,"i":0.72},{"t":"05-30 16","o":0.02,"i":0},{"t":"05-30 17","o":0.02,"i":0.72},{"t":"05-30 18","o":0.02,"i":0},{"t":"05-30 19","o":0.02,"i":0.72},{"t":"05-30 20","o":0.02,"i":0},{"t":"05-30 21","o":0.02,"i":0.72},{"t":"05-30 22","o":0.3,"i":2.8},{"t":"05-30 23","o":0.02,"i":0.72},
{"t":"05-31 00","o":0.02,"i":0},{"t":"05-31 01","o":0.02,"i":0.72},{"t":"05-31 02","o":0.4,"i":1.4},{"t":"05-31 03","o":0.02,"i":0.72},{"t":"05-31 04","o":0.02,"i":0},{"t":"05-31 05","o":0.02,"i":0.72},{"t":"05-31 06","o":0.02,"i":0},{"t":"05-31 07","o":0.02,"i":0.72},{"t":"05-31 08","o":0.02,"i":0},{"t":"05-31 09","o":0.02,"i":0.72},{"t":"05-31 10","o":0.02,"i":0},{"t":"05-31 11","o":0.02,"i":0.72},{"t":"05-31 12","o":0.02,"i":0},{"t":"05-31 13","o":0.02,"i":0.72},{"t":"05-31 14","o":0.02,"i":0},{"t":"05-31 15","o":0.02,"i":0.72},{"t":"05-31 16","o":0.02,"i":0},{"t":"05-31 17","o":0.02,"i":0.72},{"t":"05-31 18","o":0.02,"i":0},{"t":"05-31 19","o":0.02,"i":0.72},{"t":"05-31 20","o":0.02,"i":0},{"t":"05-31 21","o":0.02,"i":0.72},{"t":"05-31 22","o":0.1,"i":2.8},{"t":"05-31 23","o":0.02,"i":0.72},
{"t":"06-01 00","o":0.02,"i":0},{"t":"06-01 01","o":0.02,"i":0.72}
    ]
  },
  "resolve": {"axis": {"x": "independent"}},
  "layer": [
    {
      "mark": {"type": "line", "strokeWidth": 3, "clip": true},
      "encoding": {
        "x": {
          "field": "t", "type": "temporal", "title": "时间",
          "scale": {"domain": [{"year": 1900, "month": 4, "date": 29, "hours": 12}, {"year": 1900, "month": 6, "date": 2, "hours": 14}]},
          "axis": {
            "orient": "bottom", "format": "%m-%d", "labelFlush": false, "labelOverlap": false,
            "values": [
              {"year": 1900, "month": 4, "date": 30}, {"year": 1900, "month": 5, "date": 3}, {"year": 1900, "month": 5, "date": 6},
              {"year": 1900, "month": 5, "date": 9}, {"year": 1900, "month": 5, "date": 12}, {"year": 1900, "month": 5, "date": 15},
              {"year": 1900, "month": 5, "date": 18}, {"year": 1900, "month": 5, "date": 21}, {"year": 1900, "month": 5, "date": 24},
              {"year": 1900, "month": 5, "date": 27}, {"year": 1900, "month": 5, "date": 30}, {"year": 1900, "month": 6, "date": 2}
            ],
            "grid": true, "tickSize": 10, "titlePadding": 10
          }
        },
        "y": {
          "field": "o", "type": "quantitative", "title": "带宽 (Mbps)",
          "scale": {"domain": [-1.64, 34.44], "nice": false, "zero": false},
          "axis": {"values": [0, 5, 10, 15, 20, 25, 30], "grid": true, "titlePadding": 18}
        },
        "color": {
          "datum": "内网出带宽(Mbps)", "type": "nominal",
          "scale": {"domain": ["内网出带宽(Mbps)", "内网入带宽(Mbps)"], "range": ["#1a73e8", "#f5821f"]},
          "legend": {
            "title": null, "orient": "top-left", "offset": 12, "padding": 6,
            "fillColor": "#f7f7f7", "strokeColor": "#aaaaaa", "cornerRadius": 5,
            "symbolType": "M-1.35,0H1.35", "symbolSize": 1700, "symbolStrokeWidth": 3, "symbolOffset": 10,
            "labelFontSize": 25, "labelColor": "#555555", "labelLimit": 400, "rowPadding": -2, "labelOffset": 20
          }
        }
      }
    },
    {
      "mark": {"type": "line", "strokeWidth": 3, "clip": true},
      "encoding": {
        "x": {
          "field": "t", "type": "temporal", "title": null,
          "axis": {"orient": "bottom", "tickCount": {"interval": "day", "step": 1}, "labels": false, "grid": false, "domain": false, "tickSize": 5, "title": null}
        },
        "y": {"field": "i", "type": "quantitative", "title": "带宽 (Mbps)"},
        "color": {"datum": "内网入带宽(Mbps)", "type": "nominal"}
      }
    },
    {
      "data": {"values": [{}]},
      "mark": {"type": "rect", "fill": "#f4f4f4", "cornerRadius": 4},
      "encoding": {
        "x": {"datum": {"year": 1900, "month": 5, "date": 27, "hours": 10}, "type": "temporal", "axis": null},
        "x2": {"datum": {"year": 1900, "month": 6, "date": 1, "hours": 23, "minutes": 50}},
        "y": {"datum": 32.81, "type": "quantitative", "title": "带宽 (Mbps)"},
        "y2": {"datum": 29.72}
      }
    },
    {
      "data": {"values": [{}]},
      "mark": {"type": "text", "align": "right", "baseline": "middle", "fontSize": 22.5, "lineHeight": 27, "color": "#555555"},
      "encoding": {
        "x": {"datum": {"year": 1900, "month": 6, "date": 1, "hours": 21, "minutes": 43}, "type": "temporal", "axis": null},
        "y": {"datum": 31.97, "type": "quantitative", "title": "带宽 (Mbps)"},
        "text": {"value": ["出带宽: 最大0.96 / 平均0.04 Mbps", "入带宽: 最大32.80 / 平均0.70 Mbps"]}
      }
    }
  ],
  "config": {
    "font": "DejaVu Sans, Noto Sans CJK SC",
    "view": {"stroke": null},
    "axis": {
      "domainColor": "#999999", "domainWidth": 2,
      "tickColor": "#555555", "tickWidth": 1.6,
      "labelFontSize": 23, "labelColor": "#555555", "labelPadding": 8,
      "titleFontSize": 27, "titleColor": "#555555", "titleFontWeight": "normal",
      "gridColor": "#eeeeee", "gridWidth": 1.6
    }
  }
}
